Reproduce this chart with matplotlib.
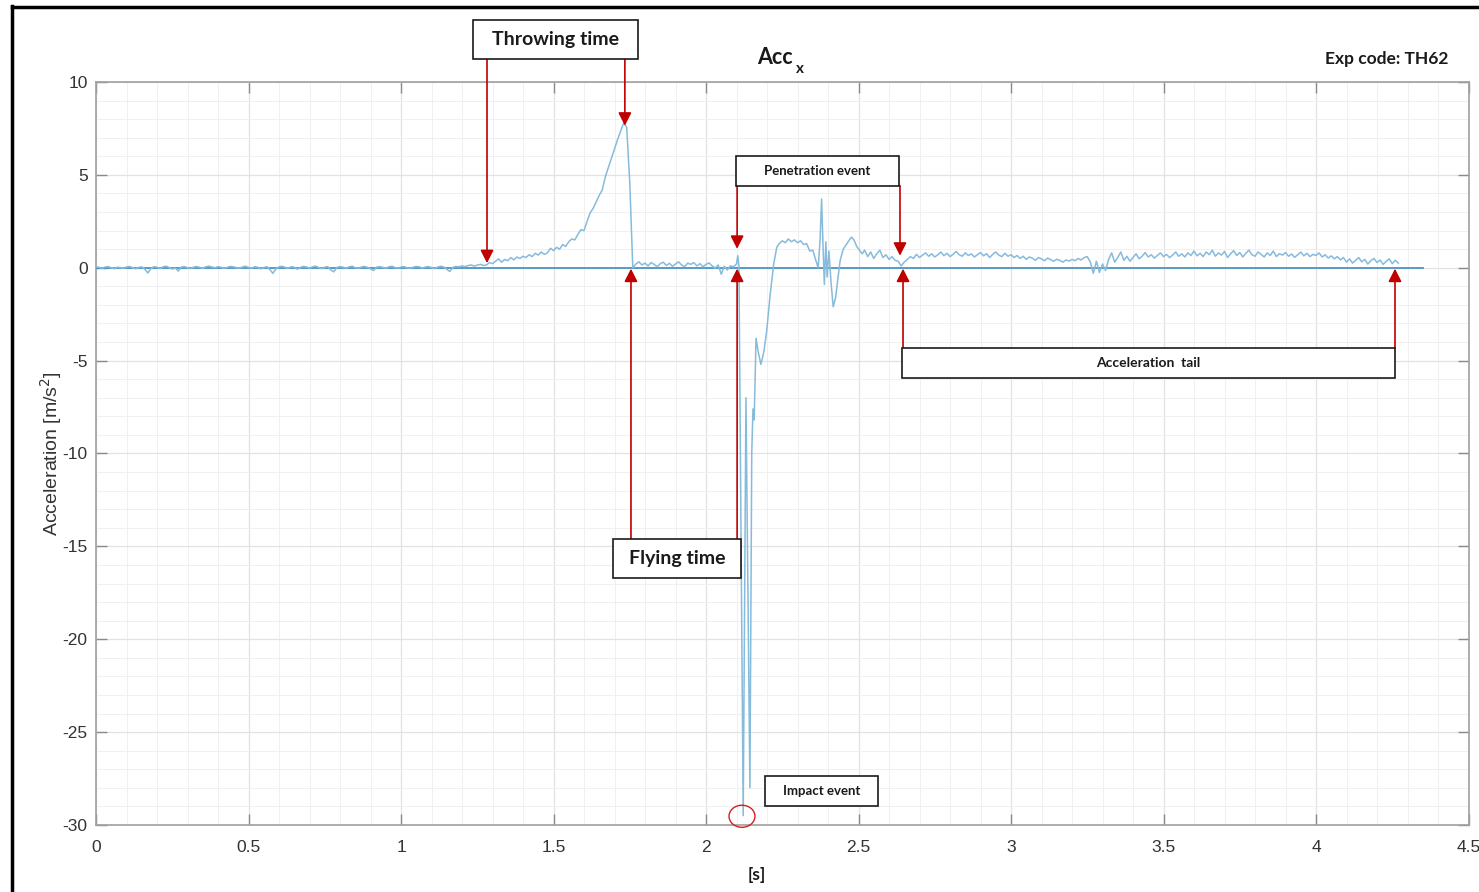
import numpy as np
import matplotlib
matplotlib.use("Agg")
import matplotlib.pyplot as plt
from matplotlib.patches import Rectangle, Ellipse
from matplotlib.lines import Line2D
from matplotlib.ticker import MultipleLocator

# ---------------- data ----------------
DT = 0.01

# quiet phase before the throw (starts at 0.00 s)
pre_start = 0.00
pre_vals = [
    0.05, 0.02, -0.03, 0.04, 0.06, 0.00, -0.05, 0.03, 0.01, -0.02,
    0.04, 0.07, 0.00, -0.06, 0.02, 0.05, -0.08, -0.28, -0.05, 0.06,
    0.03, -0.04, 0.05, 0.08, 0.01, -0.07, -0.02, -0.18, 0.04, 0.06,
    0.00, -0.05, 0.03, 0.07, 0.02, -0.03, 0.05, 0.09, 0.04, 0.00,
    0.06, 0.03, -0.04, 0.02, 0.07, 0.05, 0.01, -0.03, 0.04, 0.08,
    0.02, -0.02, 0.05, 0.03, -0.06, 0.01, 0.06, -0.10, -0.30, -0.06,
    0.05, 0.08, 0.02, -0.04, 0.06, 0.03, -0.08, 0.02, 0.07, 0.04,
    -0.02, 0.05, 0.09, 0.01, -0.05, 0.03, 0.06, -0.12, -0.22, 0.02,
    0.06, 0.03, -0.03, 0.05, 0.08, 0.00, -0.04, 0.04, 0.07, 0.02,
    -0.06, -0.15, 0.03, 0.06, 0.02, -0.03, 0.05, 0.08, 0.01, -0.02,
    0.04, 0.06, 0.00, -0.04, 0.03, 0.07, 0.05, -0.02, 0.04, 0.06,
    0.01, -0.05, 0.03, 0.08, 0.04, -0.08, -0.20, 0.02, 0.07, 0.05,
    0.10, 0.06, 0.12, 0.15, 0.09, 0.14, 0.18, 0.12,
]

# throwing phase (starts at 1.28 s)
throw_start = 1.28
throw_vals = [
    0.15, 0.28, 0.22, 0.35, 0.48, 0.30, 0.45, 0.38, 0.55, 0.42,
    0.58, 0.50, 0.62, 0.55, 0.70, 0.60, 0.78, 0.68, 0.85, 0.72,
    0.80, 1.05, 0.92, 1.10, 1.00, 1.25, 1.15, 1.40, 1.55, 1.50,
    1.80, 2.05, 2.00, 2.50, 2.95, 3.20, 3.55, 3.90, 4.20, 4.90,
    5.40, 5.90, 6.40, 6.90, 7.35, 7.80, 7.55, 4.60, 0.00,
]

# flying phase (starts at 1.77 s)
fly_start = 1.77
fly_vals = [
    0.20, 0.32, 0.15, 0.25, 0.10, 0.28, 0.18, 0.05, 0.22, 0.30,
    0.12, 0.24, 0.08, 0.20, 0.32, 0.15, 0.05, 0.25, 0.18, 0.28,
    0.10, 0.22, 0.05, 0.18, 0.26, 0.10, -0.02, 0.15, -0.35, 0.08,
    -0.12, 0.10, 0.05,
]

# impact and penetration (irregular sampling)
impact_t = [
    2.100, 2.104, 2.108, 2.122, 2.131, 2.144, 2.150, 2.154, 2.158, 2.164,
    2.172, 2.180, 2.190, 2.199, 2.210, 2.222, 2.232, 2.240, 2.250, 2.260,
    2.270, 2.280, 2.290, 2.300, 2.310, 2.320, 2.330, 2.340, 2.350, 2.360,
    2.368, 2.374, 2.379, 2.384, 2.388, 2.393, 2.397, 2.403, 2.410, 2.417,
    2.425, 2.433, 2.440, 2.450, 2.460, 2.470, 2.477, 2.485, 2.494, 2.503,
    2.512, 2.520, 2.530, 2.540, 2.550, 2.560, 2.570, 2.580, 2.590, 2.600,
    2.610, 2.620, 2.630, 2.640, 2.650,
]
impact_vals = [
    0.20, 0.65, 0.10, -29.5, -7.0, -28.0, -10.0, -7.6, -8.2, -3.8,
    -4.6, -5.2, -4.5, -3.4, -1.5, 0.2, 1.1, 1.30, 1.45, 1.35,
    1.55, 1.40, 1.50, 1.35, 1.45, 1.25, 1.30, 0.90, 0.95, 0.40,
    0.00, 1.5, 3.70, 1.0, -0.9, 1.4, -0.5, 0.9, -0.8, -2.1,
    -1.6, -0.5, 0.4, 1.0, 1.25, 1.5, 1.65, 1.50, 1.15, 0.95,
    0.75, 0.95, 0.60, 0.85, 0.50, 0.75, 0.95, 0.55, 0.70, 0.45,
    0.60, 0.40, 0.35, 0.10, 0.30,
]

# acceleration tail (starts at 2.66 s)
tail_start = 2.66
tail_vals = [
    0.45, 0.60, 0.50, 0.72,
    0.55, 0.68, 0.80, 0.62, 0.75, 0.58, 0.70, 0.85, 0.65, 0.78,
    0.60, 0.72, 0.88, 0.70, 0.62, 0.80, 0.66, 0.75, 0.58, 0.70,
    0.82, 0.64, 0.76, 0.55, 0.72, 0.85, 0.68, 0.60, 0.78, 0.62,
    0.70, 0.55, 0.66, 0.50, 0.62, 0.45, 0.58, 0.52, 0.40, 0.55,
    0.48, 0.38, 0.52, 0.44, 0.35, 0.46, 0.40, 0.30, 0.42, 0.36,
    0.45, 0.38, 0.50, 0.42, 0.55, 0.60, 0.30, -0.30, 0.35, -0.25,
    0.20, -0.15, 0.45, 0.80, 0.30, 0.55, 0.85, 0.40, 0.62, 0.35,
    0.55, 0.75, 0.48, 0.62, 0.82, 0.58, 0.70, 0.52, 0.66, 0.80,
    0.60, 0.72, 0.55, 0.68, 0.85, 0.62, 0.75, 0.58, 0.80, 0.66,
    0.90, 0.64, 0.78, 0.60, 0.85, 0.70, 0.95, 0.62, 0.80, 0.68,
    0.88, 0.55, 0.75, 0.92, 0.66, 0.82, 0.58, 0.78, 0.95, 0.70,
    0.62, 0.85, 0.72, 0.58, 0.80, 0.66, 0.90, 0.60, 0.76, 0.68,
    0.82, 0.62, 0.74, 0.56, 0.70, 0.85, 0.64, 0.78, 0.60, 0.72,
    0.66, 0.80, 0.58, 0.70, 0.52, 0.64, 0.48, 0.60, 0.42, 0.55,
    0.30, 0.48, 0.25, 0.40, 0.55, 0.32, 0.45, 0.20, 0.38, 0.50,
    0.28, 0.42, 0.18, 0.35, 0.48, 0.22, 0.40, 0.25,
]

baseline_t = [0.0, 4.35]
baseline_v = [0.0, 0.0]

x_ticks = [0, 0.5, 1, 1.5, 2, 2.5, 3, 3.5, 4, 4.5]
x_ticklabels = ["0", "0.5", "1", "1.5", "2", "2.5", "3", "3.5", "4", "4.5"]
y_ticks = [-30, -25, -20, -15, -10, -5, 0, 5, 10]
y_ticklabels = ["-30", "-25", "-20", "-15", "-10", "-5", "0", "5", "10"]


def seg(start, vals):
    t = start + DT * np.arange(len(vals))
    return t, np.asarray(vals, dtype=float)


parts = [seg(pre_start, pre_vals), seg(throw_start, throw_vals),
         seg(fly_start, fly_vals), (np.array(impact_t), np.array(impact_vals)),
         seg(tail_start, tail_vals)]
t_all = np.concatenate([p[0] for p in parts])
a_all = np.concatenate([p[1] for p in parts])

# ---------------- figure ----------------
W, H = 1479, 892
fig = plt.figure(figsize=(W / 100, H / 100), dpi=100)
fig.patch.set_facecolor("white")

ax = fig.add_axes([96 / W, 1 - 825 / H, (1468.5 - 96) / W, (825 - 82) / H])
ax.set_xlim(0, 4.5)
ax.set_ylim(-30, 10)

ax.plot(baseline_t, baseline_v, color="#4f93bd", lw=1.3, zorder=3)
ax.plot(t_all, a_all, color="#86bbdb", lw=1.1, zorder=4)

tick_font = dict(family="Liberation Sans", size=12.5, color="#333333")
ax.set_xticks(x_ticks)
ax.set_xticklabels(x_ticklabels, **tick_font)
ax.set_yticks(y_ticks)
ax.set_yticklabels(y_ticklabels, **tick_font)
ax.xaxis.set_minor_locator(MultipleLocator(0.1))
ax.yaxis.set_minor_locator(MultipleLocator(1))
ax.tick_params(which="major", direction="in", length=8, width=1.0,
               color="#8a8a8a", top=True, right=True)
ax.tick_params(axis="x", which="major", pad=11)
ax.tick_params(axis="y", which="major", pad=6)
ax.tick_params(which="minor", length=0)
ax.grid(which="major", color="#e2e2e2", lw=0.9)
ax.grid(which="minor", color="#f0f0f0", lw=0.7)
ax.set_axisbelow(True)
for s in ax.spines.values():
    s.set_color("#a0a0a0")
    s.set_linewidth(1.2)

ax.set_ylabel("Acceleration [m/s$^2$]", family="Liberation Sans",
              fontsize=14, color="#333333", labelpad=-1)

# x label, title and experiment code
fig.text(757 / W, 1 - 875 / H, "[s]", family="Lato", fontweight="bold",
         fontsize=12.5, color="#1a1a1a", ha="center", va="center")
fig.text(757 / W, 1 - 57 / H, "Acc", family="Lato", fontweight="bold",
         fontsize=15.5, color="#1a1a1a", ha="left", va="center")
fig.text(796 / W, 1 - 69 / H, "x", family="Lato", fontweight="bold",
         fontsize=11, color="#1a1a1a", ha="left", va="center")
fig.text(1387 / W, 1 - 59 / H, "Exp code: TH62", family="Lato",
         fontweight="bold", fontsize=12.5, color="#1a1a1a",
         ha="center", va="center")

# ---------------- annotations ----------------
RED = "#c00000"


def box(x0, x1, y0, y1, label, size):
    ax.add_patch(Rectangle((x0, y0), x1 - x0, y1 - y0, fc="white",
                           ec="#1a1a1a", lw=1.2, clip_on=False, zorder=6))
    ax.text((x0 + x1) / 2, (y0 + y1) / 2, label, family="Lato",
            fontweight="bold", fontsize=size, color="#1a1a1a",
            ha="center", va="center", zorder=7, clip_on=False)


def arrow(x, y_from, y_to):
    ax.annotate("", xy=(x, y_to), xytext=(x, y_from),
                arrowprops=dict(arrowstyle="-|>,head_length=0.65,head_width=0.33",
                                color=RED, lw=1.2, shrinkA=0, shrinkB=0,
                                mutation_scale=12),
                annotation_clip=False, zorder=5)


box(1.236, 1.777, 11.26, 13.36, "Throwing time", 14)
arrow(1.282, 11.26, 0.25)
arrow(1.734, 11.26, 7.65)

box(1.695, 2.115, -16.70, -14.60, "Flying time", 14)
arrow(1.754, -14.60, -0.05)
arrow(2.102, -14.60, -0.05)

box(2.098, 2.633, 4.42, 6.03, "Penetration event", 9.5)
arrow(2.102, 4.42, 1.02)
arrow(2.636, 4.42, 0.65)

box(2.643, 4.259, -5.93, -4.31, "Acceleration  tail", 10)
arrow(2.646, -4.31, -0.05)
arrow(4.259, -4.31, -0.05)

box(2.193, 2.564, -28.99, -27.37, "Impact event", 9.5)
ax.add_patch(Ellipse((2.118, -29.53), 0.085, 1.19, fc="none", ec="#d02020",
                     lw=1.0, clip_on=False, zorder=6))

# outer frame on the left and top
fig.add_artist(Line2D([11.5 / W, 11.5 / W], [0, 1 - 6 / H],
                      color="black", lw=2.5, transform=fig.transFigure))
fig.add_artist(Line2D([11.5 / W, 1], [1 - 6.5 / H, 1 - 6.5 / H],
                      color="black", lw=2.5, transform=fig.transFigure))

fig.savefig("out.png", dpi=100, facecolor="white")
